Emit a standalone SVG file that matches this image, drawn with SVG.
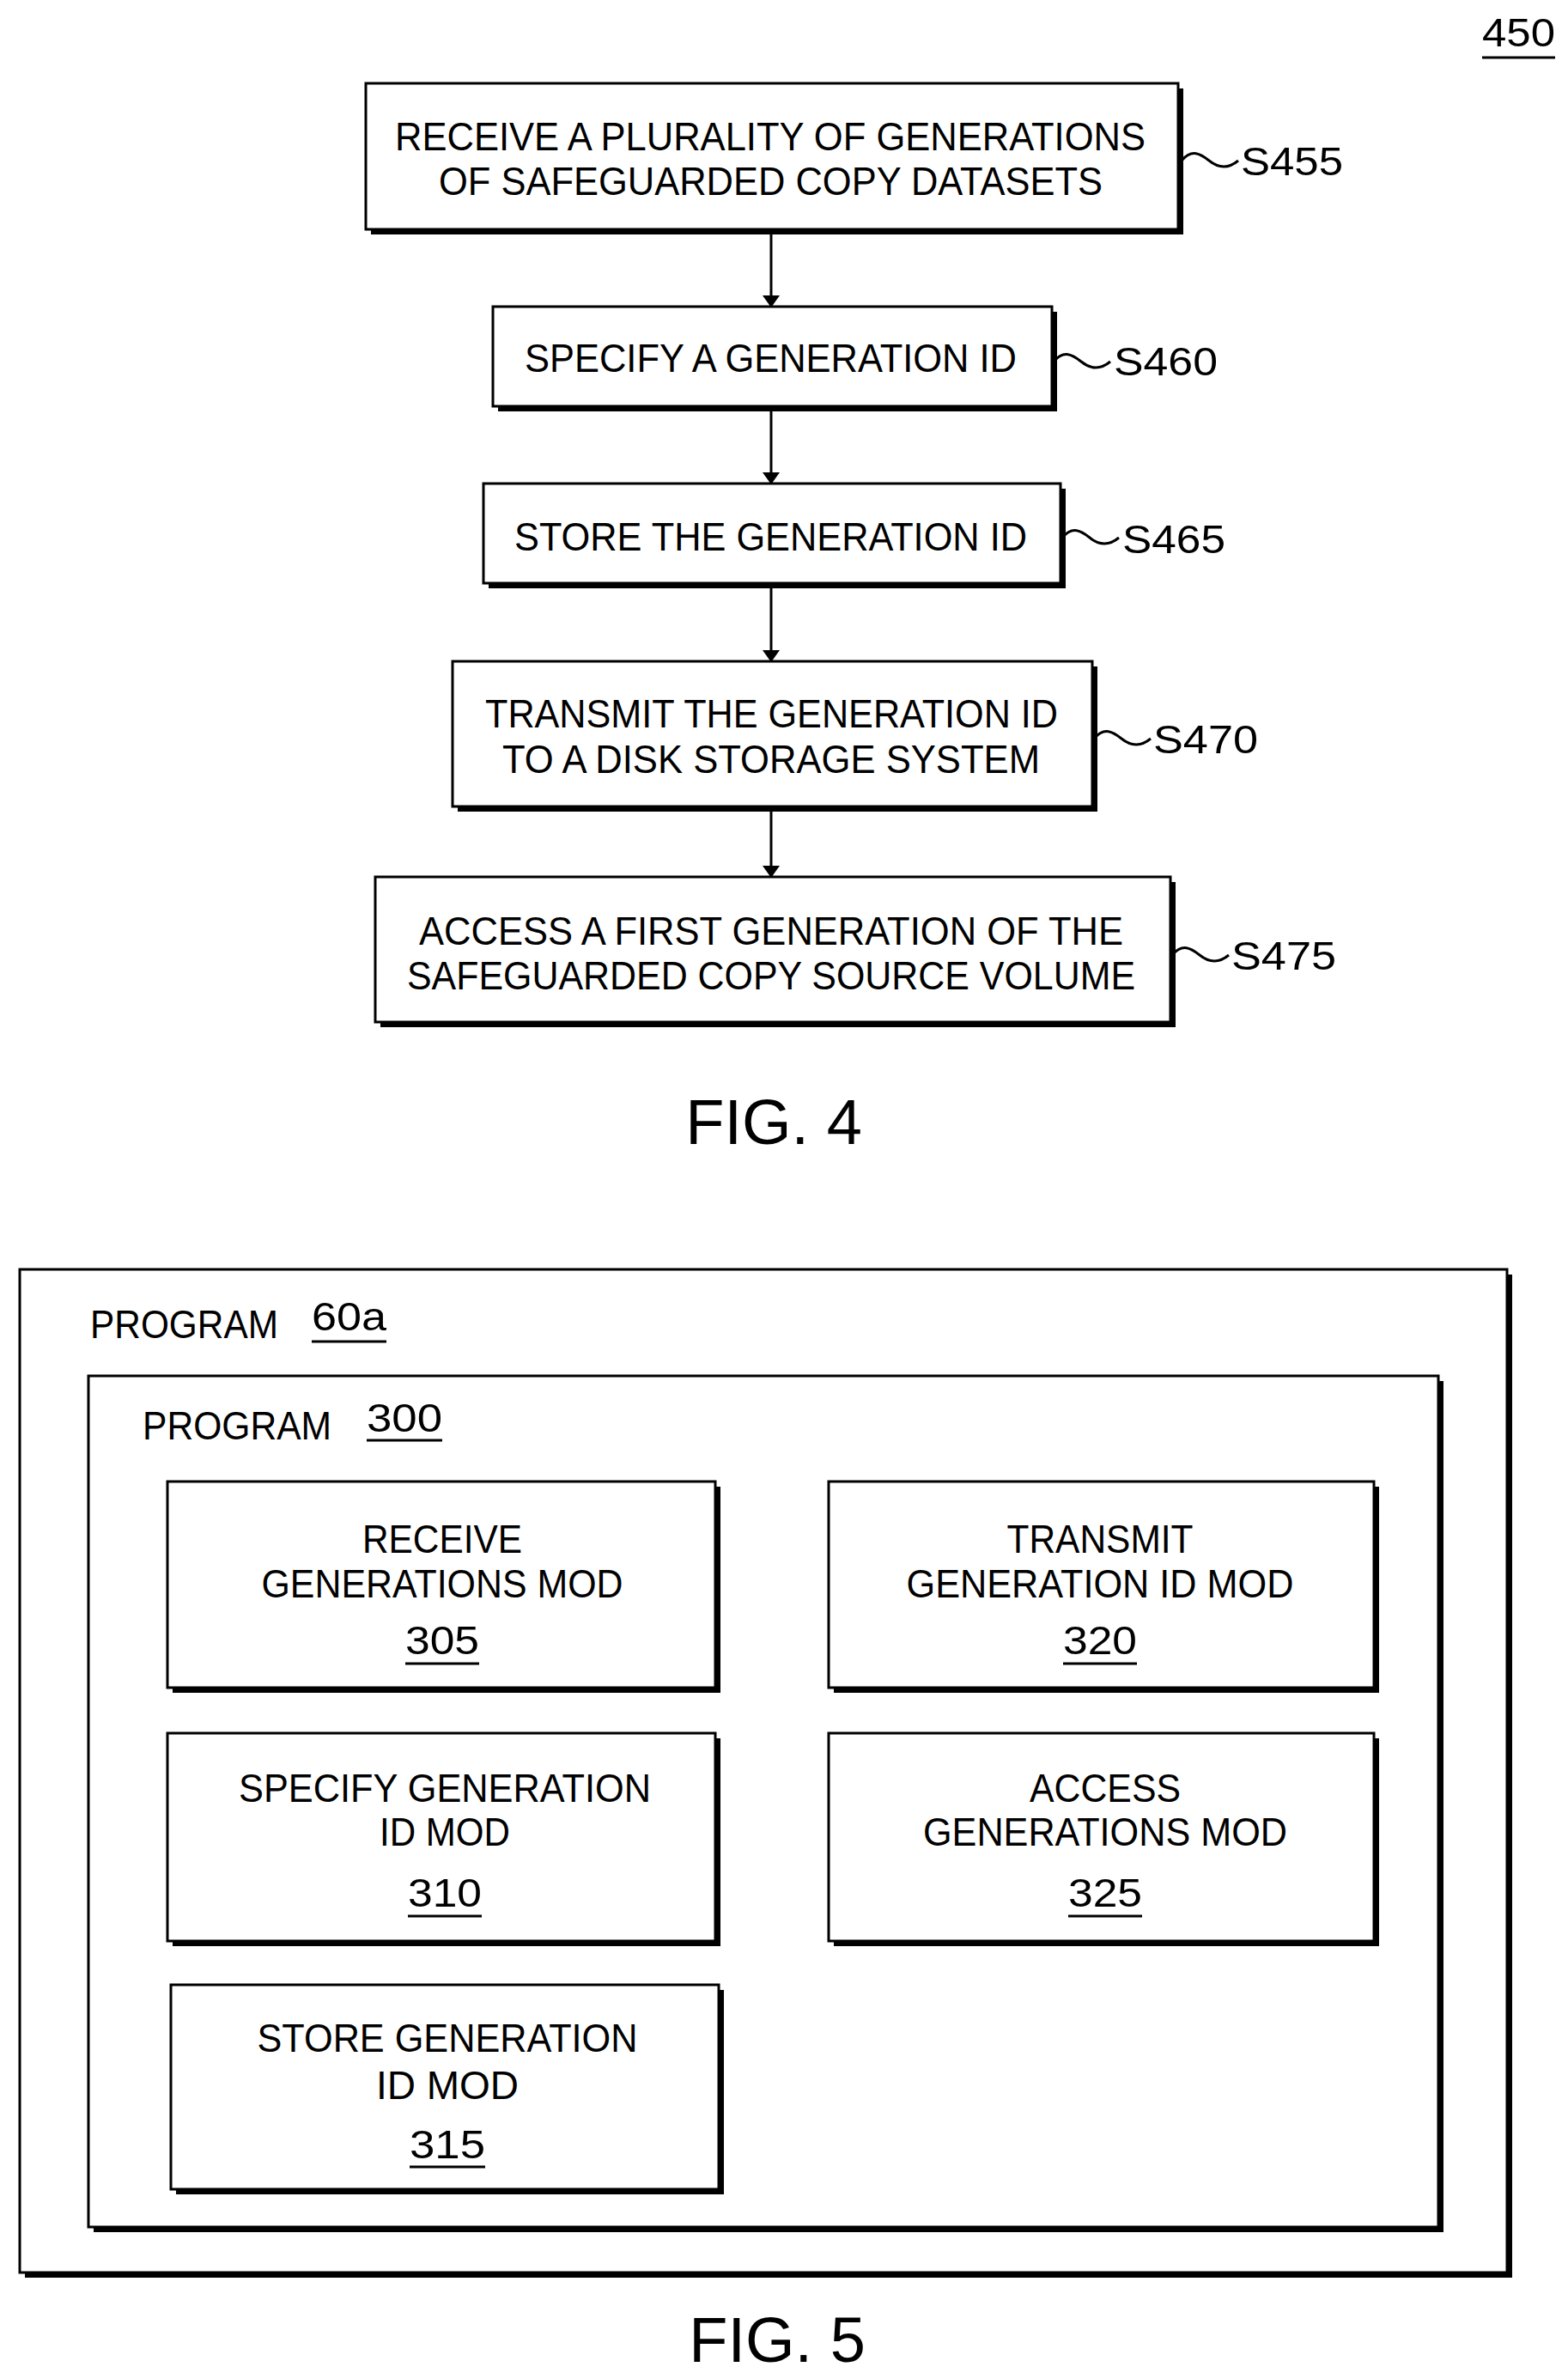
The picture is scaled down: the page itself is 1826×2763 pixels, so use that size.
<svg xmlns="http://www.w3.org/2000/svg" width="1826" height="2763" viewBox="0 0 1826 2763">
<style>
.b{fill:#fff;stroke:#000;stroke-width:3}
.s{fill:#000}
text{font-family:"Liberation Sans",Arial,sans-serif;fill:#000}
.t{font-size:47px}
.c{text-anchor:middle}
.l{fill:none;stroke:#000;stroke-width:3}
.u{stroke:#000;stroke-width:3}
</style>
<defs><marker id="a" markerWidth="14" markerHeight="20" refX="13" refY="10" orient="auto" markerUnits="userSpaceOnUse"><path d="M0,0 L14,10 L0,20 Z" fill="#000"/></marker></defs>
<g id="ref450"><text x="1726" y="54" class="t" textLength="85" lengthAdjust="spacingAndGlyphs">450</text><line class="u" x1="1726" y1="67" x2="1811" y2="67"/></g>
<g id="connectors">
<line class="l" x1="898" y1="267" x2="898" y2="357" marker-end="url(#a)"/>
<line class="l" x1="898" y1="473" x2="898" y2="563" marker-end="url(#a)"/>
<line class="l" x1="898" y1="679" x2="898" y2="770" marker-end="url(#a)"/>
<line class="l" x1="898" y1="939" x2="898" y2="1021" marker-end="url(#a)"/>
<path class="l" d="M1376 187 c12 -14 22 -8 32 0 s22 10 34 0"/>
<path class="l" d="M1227 421 c12 -14 22 -8 32 0 s22 10 34 0"/>
<path class="l" d="M1237 626 c12 -14 22 -8 32 0 s22 10 34 0"/>
<path class="l" d="M1274 860 c12 -14 22 -8 32 0 s22 10 34 0"/>
<path class="l" d="M1365 1112 c12 -14 22 -8 32 0 s22 10 34 0"/>
</g>
<g id="S455"><rect class="s" x="432" y="103" width="946" height="170"/><rect class="b" x="426" y="97" width="946" height="170"/>
<text class="t" x="460" y="175" textLength="874" lengthAdjust="spacingAndGlyphs">RECEIVE A PLURALITY OF GENERATIONS</text>
<text class="t" x="511" y="227" textLength="773" lengthAdjust="spacingAndGlyphs">OF SAFEGUARDED COPY DATASETS</text>
<text class="t" x="1445" y="204" textLength="119" lengthAdjust="spacingAndGlyphs">S455</text></g>
<g id="S460"><rect class="s" x="580" y="363" width="651" height="116"/><rect class="b" x="574" y="357" width="651" height="116"/>
<text class="t" x="611" y="433" textLength="573" lengthAdjust="spacingAndGlyphs">SPECIFY A GENERATION ID</text>
<text class="t" x="1297" y="437" textLength="121" lengthAdjust="spacingAndGlyphs">S460</text></g>
<g id="S465"><rect class="s" x="569" y="569" width="672" height="116"/><rect class="b" x="563" y="563" width="672" height="116"/>
<text class="t" x="599" y="641" textLength="597" lengthAdjust="spacingAndGlyphs">STORE THE GENERATION ID</text>
<text class="t" x="1307" y="644" textLength="120" lengthAdjust="spacingAndGlyphs">S465</text></g>
<g id="S470"><rect class="s" x="533" y="776" width="745" height="169"/><rect class="b" x="527" y="770" width="745" height="169"/>
<text class="t" x="565" y="847" textLength="667" lengthAdjust="spacingAndGlyphs">TRANSMIT THE GENERATION ID</text>
<text class="t" x="585" y="900" textLength="626" lengthAdjust="spacingAndGlyphs">TO A DISK STORAGE SYSTEM</text>
<text class="t" x="1343" y="877" textLength="122" lengthAdjust="spacingAndGlyphs">S470</text></g>
<g id="S475"><rect class="s" x="443" y="1027" width="926" height="169"/><rect class="b" x="437" y="1021" width="926" height="169"/>
<text class="t" x="488" y="1100" textLength="820" lengthAdjust="spacingAndGlyphs">ACCESS A FIRST GENERATION OF THE</text>
<text class="t" x="474" y="1152" textLength="848" lengthAdjust="spacingAndGlyphs">SAFEGUARDED COPY SOURCE VOLUME</text>
<text class="t" x="1434" y="1129" textLength="122" lengthAdjust="spacingAndGlyphs">S475</text></g>
<text x="901" y="1332" class="c" font-size="74">FIG. 4</text>
<g id="program60a"><rect class="s" x="29" y="1484" width="1732" height="1168"/><rect class="b" x="23" y="1478" width="1732" height="1168"/>
<text class="t" x="105" y="1558" textLength="219" lengthAdjust="spacingAndGlyphs">PROGRAM</text>
<text class="t" x="363" y="1549" textLength="87" lengthAdjust="spacingAndGlyphs">60a</text><line class="u" x1="363" y1="1562" x2="450" y2="1562"/></g>
<g id="program300"><rect class="s" x="109" y="1608" width="1572" height="991"/><rect class="b" x="103" y="1602" width="1572" height="991"/>
<text class="t" x="166" y="1676" textLength="220" lengthAdjust="spacingAndGlyphs">PROGRAM</text>
<text class="t" x="427" y="1667" textLength="88" lengthAdjust="spacingAndGlyphs">300</text><line class="u" x1="427" y1="1677" x2="515" y2="1677"/></g>
<g id="m305"><rect class="s" x="201" y="1731" width="638" height="240"/><rect class="b" x="195" y="1725" width="638" height="240"/>
<text class="t c" x="515" y="1808" textLength="186" lengthAdjust="spacingAndGlyphs">RECEIVE</text>
<text class="t c" x="515" y="1860" textLength="421" lengthAdjust="spacingAndGlyphs">GENERATIONS MOD</text>
<text class="t c" x="515" y="1926" textLength="86" lengthAdjust="spacingAndGlyphs">305</text><line class="u" x1="472" y1="1937" x2="558" y2="1937"/></g>
<g id="m320"><rect class="s" x="971" y="1731" width="635" height="240"/><rect class="b" x="965" y="1725" width="635" height="240"/>
<text class="t c" x="1281" y="1808" textLength="217" lengthAdjust="spacingAndGlyphs">TRANSMIT</text>
<text class="t c" x="1281" y="1860" textLength="451" lengthAdjust="spacingAndGlyphs">GENERATION ID MOD</text>
<text class="t c" x="1281" y="1926" textLength="86" lengthAdjust="spacingAndGlyphs">320</text><line class="u" x1="1238" y1="1937" x2="1324" y2="1937"/></g>
<g id="m310"><rect class="s" x="201" y="2024" width="638" height="242"/><rect class="b" x="195" y="2018" width="638" height="242"/>
<text class="t c" x="518" y="2098" textLength="480" lengthAdjust="spacingAndGlyphs">SPECIFY GENERATION</text>
<text class="t c" x="518" y="2149" textLength="152" lengthAdjust="spacingAndGlyphs">ID MOD</text>
<text class="t c" x="518" y="2220" textLength="86" lengthAdjust="spacingAndGlyphs">310</text><line class="u" x1="475" y1="2231" x2="561" y2="2231"/></g>
<g id="m325"><rect class="s" x="971" y="2024" width="635" height="242"/><rect class="b" x="965" y="2018" width="635" height="242"/>
<text class="t c" x="1287" y="2098" textLength="176" lengthAdjust="spacingAndGlyphs">ACCESS</text>
<text class="t c" x="1287" y="2149" textLength="424" lengthAdjust="spacingAndGlyphs">GENERATIONS MOD</text>
<text class="t c" x="1287" y="2220" textLength="86" lengthAdjust="spacingAndGlyphs">325</text><line class="u" x1="1244" y1="2231" x2="1330" y2="2231"/></g>
<g id="m315"><rect class="s" x="205" y="2317" width="638" height="238"/><rect class="b" x="199" y="2311" width="638" height="238"/>
<text class="t c" x="521" y="2389" textLength="443" lengthAdjust="spacingAndGlyphs">STORE GENERATION</text>
<text class="t c" x="521" y="2444" textLength="166" lengthAdjust="spacingAndGlyphs">ID  MOD</text>
<text class="t c" x="521" y="2513" textLength="88" lengthAdjust="spacingAndGlyphs">315</text><line class="u" x1="477" y1="2523" x2="565" y2="2523"/></g>
<text x="905" y="2750" class="c" font-size="74">FIG. 5</text>
</svg>
